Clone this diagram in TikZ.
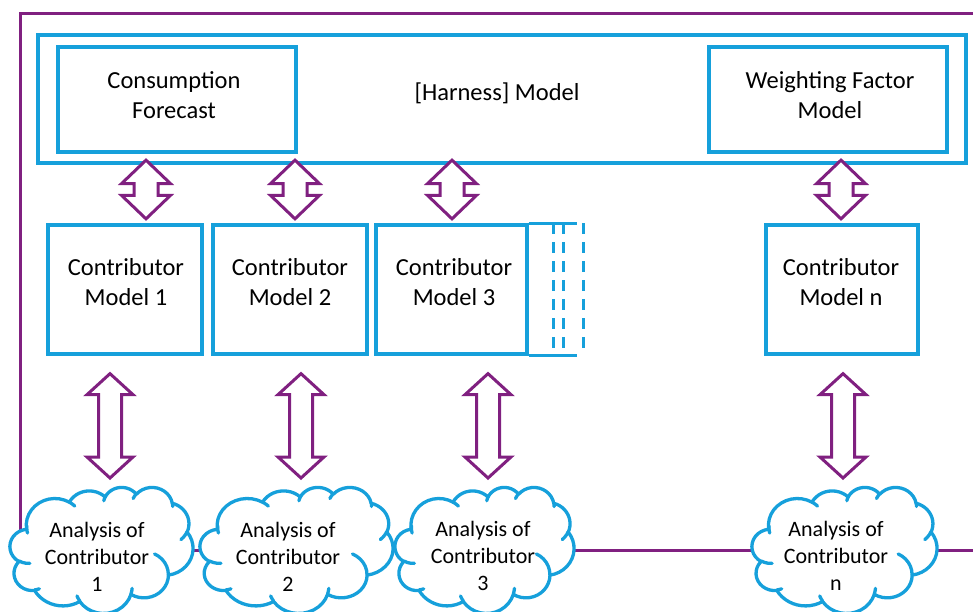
\documentclass[tikz,border=0pt]{standalone}
\usepackage{fontspec}
\setmainfont{Carlito}
\usetikzlibrary{calc}
\definecolor{cblue}{RGB}{22,160,219}
\definecolor{cpurple}{RGB}{128,32,128}
\tikzset{
 boxstyle/.style={draw=cblue, line width=3.3pt, fill=white, inner sep=0pt},
 boxtext/.style={align=center, inner sep=0pt, font=\fontsize{24.5}{30}\selectfont},
 blueline/.style={draw=cblue, line width=3.3pt},
 dashline/.style={draw=cblue, line width=3pt, dash pattern=on 11pt off 8pt},
 arrowline/.style={draw=cpurple, line width=3pt, fill=white, line join=miter},
 frameline/.style={draw=cpurple, line width=3pt},
 cloudtext/.style={align=center, inner sep=0pt, font=\fontsize{22}{27}\selectfont},
}
% #1 x, #2 top anchor, #3 bottom anchor, #4 top gap, #5 bottom gap, #6 head length, #7 half head, #8 half shaft
\newcommand\dblarr[8]{%
 \draw[arrowline] let \p1=(#1,0 |- #2), \p2=(#1,0 |- #3) in
  (\x1,\y1-#4) -- (\x1+#7,\y1-#4-#6) -- (\x1+#8,\y1-#4-#6) -- (\x1+#8,\y2+#5+#6)
  -- (\x1+#7,\y2+#5+#6) -- (\x1,\y2+#5) -- (\x1-#7,\y2+#5+#6) -- (\x1-#8,\y2+#5+#6)
  -- (\x1-#8,\y1-#4-#6) -- (\x1-#7,\y1-#4-#6) -- cycle;}
% cloud outline (office cloud geometry, coordinates in thousandths of 43200)
\newcommand\ppmove[2]{%
 \pgfmathsetmacro\curx{\pcx+\pcw*#1/43.2}%
 \pgfmathsetmacro\cury{\pcy+\pch*#2/43.2}%
 \pgfpathmoveto{\pgfpointxy{\curx}{\cury}}}
\newcommand\ppseg[2]{%
 \pgfmathsetmacro\pax{\curx-\pk*\prx*sin(#1)}%
 \pgfmathsetmacro\pay{\cury+\pk*\pry*cos(#1)}%
 \pgfmathsetmacro\pbx{\pcenx+\prx*cos(#2)}%
 \pgfmathsetmacro\pby{\pceny+\pry*sin(#2)}%
 \pgfmathsetmacro\pqx{\pbx+\pk*\prx*sin(#2)}%
 \pgfmathsetmacro\pqy{\pby-\pk*\pry*cos(#2)}%
 \pgfpathcurveto{\pgfpointxy{\pax}{\pay}}{\pgfpointxy{\pqx}{\pqy}}{\pgfpointxy{\pbx}{\pby}}%
 \let\curx\pbx \let\cury\pby}
\newcommand\pparc[4]{%
 \pgfmathsetmacro\prx{\pcw*#1/43.2}%
 \pgfmathsetmacro\pry{\pch*#2/43.2}%
 \pgfmathsetmacro\pta{atan2(#1*sin(#3), #2*cos(#3))}%
 \pgfmathsetmacro\ptc{atan2(#1*sin(#3+#4), #2*cos(#3+#4))}%
 \pgfmathsetmacro\ptd{mod(\ptc-\pta+720,360)/3}%
 \pgfmathsetmacro\pcenx{\curx-\prx*cos(\pta)}%
 \pgfmathsetmacro\pceny{\cury-\pry*sin(\pta)}%
 \pgfmathsetmacro\pk{4/3*tan(\ptd/4)}%
 \pgfmathsetmacro\ptu{\pta+\ptd}%
 \pgfmathsetmacro\ptv{\pta+2*\ptd}%
 \pgfmathsetmacro\ptw{\pta+3*\ptd}%
 \ppseg{\pta}{\ptu}\ppseg{\ptu}{\ptv}\ppseg{\ptv}{\ptw}}
% #1 x0, #2 y0, #3 w, #4 h, #5 name of top coordinate
\newcommand\cloudshape[5]{%
 \def\pcx{#1}\def\pcy{#2}\def\pcw{#3}\def\pch{#4}%
 \begin{pgfscope}
 \pgfsetlinewidth{3.3pt}\pgfsetstrokecolor{cblue}\pgfsetfillcolor{white}\pgfsetroundjoin\pgfsetroundcap
 \ppmove{3.900}{14.370}%
 \pparc{6.753}{9.190}{-190.4875}{123.7805}%
 \pparc{5.333}{7.267}{-144.1024}{89.9452}%
 \pparc{4.365}{5.945}{-145.8079}{99.7230}%
 \pparc{4.857}{6.595}{-130.9861}{117.2417}%
 \pparc{5.333}{7.273}{-78.7089}{109.0269}%
 \pparc{6.775}{9.220}{-46.2673}{130.2690}%
 \pparc{5.785}{7.867}{0.6250}{114.0333}%
 \pparc{6.752}{9.215}{22.4516}{115.1726}%
 \pparc{7.720}{10.543}{66.2426}{75.7110}%
 \pparc{4.360}{5.918}{-274.9421}{146.7356}%
 \pparc{4.345}{5.945}{-246.8285}{152.5189}%
 \pgfpathclose
 \pgfusepath{fill,stroke}%
 \ppmove{4.693}{26.177}\pparc{4.345}{5.945}{86.7420}{26.4295}%
 \ppmove{6.928}{34.899}\pparc{4.360}{5.918}{73.6105}{11.4475}%
 \ppmove{16.478}{39.090}\pparc{6.752}{9.215}{137.6242}{14.0811}%
 \ppmove{28.827}{34.751}\pparc{6.752}{9.215}{6.4533}{15.9984}%
 \ppmove{34.129}{22.954}\pparc{5.785}{7.867}{-70.2924}{70.9174}%
 \ppmove{41.798}{15.354}\pparc{5.333}{7.273}{30.3180}{27.7515}%
 \ppmove{38.324}{5.426}\pparc{4.857}{6.595}{-13.7443}{14.8589}%
 \ppmove{29.078}{3.952}\pparc{4.857}{6.595}{-149.1815}{18.1954}%
 \ppmove{22.141}{4.720}\pparc{4.365}{5.945}{-163.4943}{17.6864}%
 \ppmove{14.000}{5.192}\pparc{6.753}{9.190}{-66.7070}{12.3194}%
 \ppmove{4.127}{15.789}\pparc{6.753}{9.190}{162.0476}{21.1161}%
 \pgfusepath{stroke}%
 \end{pgfscope}
 \pgfmathsetmacro\ppx{#1+#3/2}%
 \coordinate (#5) at (\ppx,#2);}
\begin{document}
\begin{tikzpicture}[x=1pt,y=-1pt]
\useasboundingbox (0,0) rectangle (973,612);
% outer purple frame
\draw[frameline] (990,14) -- (20,14) -- (20,550) -- (990,550);
% harness model
\node[boxstyle, minimum width=928pt, minimum height=128pt] (h) at (502,99) {};
\node[boxtext] (ht) at (497,93) {[Harness] Model};
\node[boxstyle, minimum width=238pt, minimum height=105pt] (cf) at (177,99.5) {};
\node[boxtext] (cft) at (174,95) {Consumption\\Forecast};
\node[boxstyle, minimum width=238pt, minimum height=105pt] (wf) at (828,99.5) {};
\node[boxtext] (wft) at (830,95) {Weighting Factor\\Model};
% contributor models
\node[boxstyle, minimum width=154pt, minimum height=129pt] (c1) at (125,289.5) {};
\node[boxtext] (c1t) at (126,282) {Contributor\\Model 1};
\node[boxstyle, minimum width=154pt, minimum height=129pt] (c2) at (290,289.5) {};
\node[boxtext] (c2t) at (290,282) {Contributor\\Model 2};
\node[boxstyle, minimum width=151pt, minimum height=129pt] (c3) at (451.5,289.5) {};
\node[boxtext] (c3t) at (454,282) {Contributor\\Model 3};
\node[boxstyle, minimum width=152pt, minimum height=129pt] (cn) at (842,289.5) {};
\node[boxtext] (cnt) at (841,282) {Contributor\\Model n};
% extension of model 3
\coordinate (e1) at (577,0 |- c3.north);
\coordinate (e2) at (577,0 |- c3.south);
\draw[blueline] (c3.north east) -- (e1);
\draw[blueline] (c3.south east) -- (e2);
\draw[dashline] (553,0 |- c3.north) -- (553,0 |- c3.south);
\draw[dashline] (563,0 |- c3.north) -- (563,0 |- c3.south);
\draw[dashline] (583,0 |- c3.north) -- (583,0 |- c3.south);
% clouds
\cloudshape{10}{487}{183}{126}{a1}
\node[cloudtext] (a1t) at (97,557) {Analysis of\\Contributor\\1};
\cloudshape{200}{487}{193}{126}{a2}
\node[cloudtext] (a2t) at (288,557) {Analysis of\\Contributor\\2};
\cloudshape{395}{487}{179}{126}{a3}
\node[cloudtext] (a3t) at (483,556) {Analysis of\\Contributor\\3};
\cloudshape{752}{487}{185}{126}{an}
\node[cloudtext] (ant) at (836,556) {Analysis of\\Contributor\\n};
% upper double arrows
\dblarr{146}{cf.south}{c1.north}{6.5pt}{4.5pt}{23.5pt}{24.5pt}{12pt}
\dblarr{295}{cf.south}{c2.north}{6.5pt}{4.5pt}{23.5pt}{24.5pt}{12pt}
\dblarr{452}{cf.south}{c3.north}{6.5pt}{4.5pt}{23.5pt}{24.5pt}{12pt}
\dblarr{841}{wf.south}{cn.north}{6.5pt}{4.5pt}{23.5pt}{24.5pt}{12pt}
% lower double arrows
\dblarr{110}{c1.south}{a1}{18pt}{9pt}{21pt}{23pt}{11.5pt}
\dblarr{301}{c2.south}{a2}{18pt}{9pt}{21pt}{23pt}{11.5pt}
\dblarr{488}{c3.south}{a3}{18pt}{9pt}{21pt}{23pt}{11.5pt}
\dblarr{843}{cn.south}{an}{18pt}{9pt}{21pt}{23pt}{11.5pt}
\end{tikzpicture}
\end{document}
